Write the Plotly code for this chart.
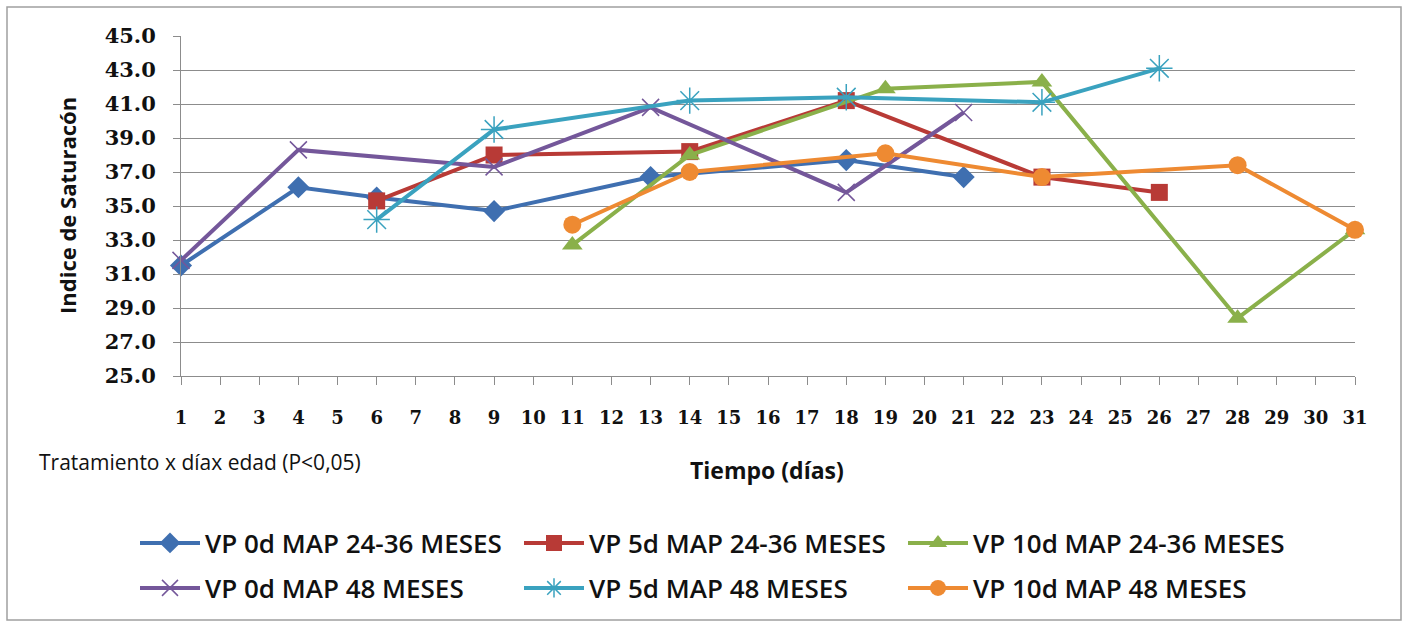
import plotly.graph_objects as go

# Sampling days (x) and saturation index values (y) per treatment
days_0d_2436 = [1, 4, 6, 9, 13, 18, 21]
vals_0d_2436 = [31.5, 36.1, 35.5, 34.7, 36.7, 37.7, 36.7]

days_5d_2436 = [6, 9, 14, 18, 23, 26]
vals_5d_2436 = [35.3, 38.0, 38.2, 41.2, 36.7, 35.8]

days_10d_2436 = [11, 14, 19, 23, 28, 31]
vals_10d_2436 = [32.7, 38.0, 41.9, 42.3, 28.4, 33.6]

days_0d_48 = [1, 4, 9, 13, 18, 21]
vals_0d_48 = [31.8, 38.3, 37.3, 40.8, 35.8, 40.5]

days_5d_48 = [6, 9, 14, 18, 23, 26]
vals_5d_48 = [34.2, 39.5, 41.2, 41.4, 41.1, 43.1]

days_10d_48 = [11, 14, 19, 23, 28, 31]
vals_10d_48 = [33.9, 37.0, 38.1, 36.7, 37.4, 33.6]

x_ticks = list(range(1, 32))
y_ticks = [25, 27, 29, 31, 33, 35, 37, 39, 41, 43, 45]

names = [
    "VP 0d MAP 24-36 MESES",
    "VP 5d MAP 24-36 MESES",
    "VP 10d MAP 24-36 MESES",
    "VP 0d MAP 48 MESES",
    "VP 5d MAP 48 MESES",
    "VP 10d MAP 48 MESES",
]

W, H = 1408, 625
ML, MR, MT, MB = 181, 53, 36, 249
PW, PH = W - ML - MR, H - MT - MB

SANS = "Open Sans"
SERIF = "DejaVu Serif"

series = [
    (days_0d_2436, vals_0d_2436, "#3F6FB0", dict(symbol="diamond", size=17), "legend"),
    (days_5d_2436, vals_5d_2436, "#B83A36", dict(symbol="square", size=17), "legend"),
    (days_10d_2436, vals_10d_2436, "#8AB04A", dict(symbol="triangle-up", size=18), "legend"),
    (days_0d_48, vals_0d_48, "#74579A", dict(symbol="x-thin-open", size=17, line=dict(width=1.5)), "legend2"),
    (days_5d_48, vals_5d_48, "#3AA2BF", dict(symbol="asterisk-open", size=22, line=dict(width=1.5)), "legend2"),
    (days_10d_48, vals_10d_48, "#EE8A32", dict(symbol="circle", size=18), "legend2"),
]

fig = go.Figure()
for (xs, ys, color, marker, leg), name in zip(series, names):
    m = dict(marker)
    m["color"] = color
    if "line" in m:
        m["line"] = dict(m["line"], color=color)
    fig.add_trace(go.Scatter(
        x=xs, y=ys, name=name, mode="lines+markers",
        line=dict(color=color, width=4),
        marker=m, cliponaxis=False, legend=leg,
    ))

grid = "#8C8C8C"
legend_style = dict(
    orientation="h", x=(135 - ML) / PW, xanchor="left", yanchor="middle",
    entrywidth=309, entrywidthmode="pixels", itemwidth=60,
    font=dict(family=SANS, size=26, color="#111111", weight=600),
    bgcolor="rgba(0,0,0,0)",
)
fig.update_layout(
    width=W, height=H,
    margin=dict(l=ML, r=MR, t=MT, b=MB, autoexpand=False),
    paper_bgcolor="white", plot_bgcolor="white",
    xaxis=dict(
        range=[1, 31], tickvals=x_ticks, ticktext=[str(v) for v in x_ticks],
        showgrid=False, zeroline=False, showline=True, linecolor=grid, linewidth=1,
        ticks="outside", ticklen=8, tickcolor=grid,
        tickfont=dict(family=SERIF, size=18, color="#111111", weight="bold"),
        ticklabelstandoff=17,
    ),
    yaxis=dict(
        range=[25, 45], tickvals=y_ticks, tickformat=".1f",
        showgrid=True, gridcolor=grid, gridwidth=1, zeroline=False,
        showline=True, linecolor=grid, linewidth=1,
        ticks="outside", ticklen=7, tickcolor=grid,
        tickfont=dict(family=SERIF, size=21, color="#111111", weight="bold"),
        ticklabelstandoff=13,
    ),
    legend=dict(legend_style, y=(MT + PH - 543) / PH),
    legend2=dict(legend_style, y=(MT + PH - 588) / PH),
    showlegend=True,
)

# Axis titles and note
fig.add_annotation(
    text="Tiempo (días)", xref="paper", yref="paper",
    x=(767 - ML) / PW, y=(MT + PH - 470) / PH, xanchor="center", yanchor="middle",
    showarrow=False, font=dict(family=SANS, size=23, color="#111111", weight="bold"),
)
fig.add_annotation(
    text="Indice de Saturacón", xref="paper", yref="paper",
    x=(67 - ML) / PW, y=(MT + PH - 205) / PH, xanchor="center", yanchor="middle",
    textangle=-90, showarrow=False,
    font=dict(family=SANS, size=22, color="#111111", weight="bold"),
)
fig.add_annotation(
    text="Tratamiento x díax edad (P<0,05)", xref="paper", yref="paper",
    x=(37 - ML) / PW, y=(MT + PH - 462) / PH, xanchor="left", yanchor="middle",
    showarrow=False, font=dict(family=SANS, size=21, color="#111111"),
)

# Chart frame
fig.add_shape(
    type="rect", xref="paper", yref="paper",
    x0=(7 - ML) / PW, x1=(1401 - ML) / PW,
    y0=(MT + PH - 620) / PH, y1=(MT + PH - 7) / PH,
    line=dict(color="#A0A0A0", width=1.5), fillcolor="rgba(0,0,0,0)", layer="below",
)

fig.write_html("out.html")
